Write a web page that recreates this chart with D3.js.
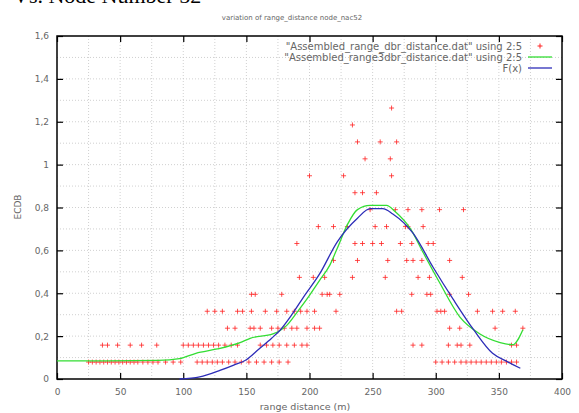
<!DOCTYPE html>
<html>
<head>
<meta charset="utf-8">
<script src="https://cdn.jsdelivr.net/npm/d3@7"></script>
<style>
body { margin: 0; background: #fff; }
text { font-family: "DejaVu Sans", sans-serif; }
.grid line { stroke: #c4c4c4; stroke-dasharray: 1,2; stroke-width: 0.8; }
.axis path { display: none; }
.axis line { stroke: #000; stroke-width: 1.2; }
.axis text { fill: #666; font-size: 9px; }
</style>
</head>
<body>
<script>
// tick values and labels
var xTicks = [0, 50, 100, 150, 200, 250, 300, 350, 400];
var yTicks = [0, 0.2, 0.4, 0.6, 0.8, 1, 1.2, 1.4, 1.6];
var yTickLabels = ["0", "0,2", "0,4", "0,6", "0,8", "1", "1,2", "1,4", "1,6"];
var xGrid = [25, 50, 75, 100, 125, 150, 175, 200, 225, 250, 275, 300, 325, 350, 375];
var yGrid = [0.1, 0.2, 0.3, 0.4, 0.5, 0.6, 0.7, 0.8, 0.9, 1, 1.1, 1.2, 1.3, 1.4, 1.5];

// red points, one list of x per level
var levels = [0.079, 0.158, 0.237, 0.316, 0.395, 0.474, 0.553, 0.632, 0.711, 0.79, 0.869, 0.948, 1.027, 1.106, 1.185, 1.264];
var pointsX = [
  [25, 28, 31, 34, 37, 40, 43, 46, 49, 52, 55, 58, 61, 64, 68, 72, 76, 80, 86, 92, 98,
   111, 115, 119, 123, 127, 131, 136, 141, 146, 152, 158, 164, 170, 176, 183,
   300, 305, 310, 315, 320, 324, 328, 332, 336, 340, 344, 348, 352, 356, 360, 364],
  [36, 40, 48, 58, 67, 79, 100, 104, 108, 112, 116, 120, 124, 128, 133, 138, 143,
   161, 166, 171, 176, 182, 188, 194, 198, 282, 289, 310, 317, 320, 327, 360, 364],
  [135, 141, 153, 156, 161, 170, 175, 180, 186, 190, 198, 204, 208, 311, 319, 347, 369],
  [119, 125, 131, 143, 147, 154, 165, 174, 182, 188, 193, 198, 204, 221,
   269, 273, 301, 304, 307, 333, 345, 353, 363],
  [154, 157, 178, 210, 214, 216, 224, 281, 293, 296, 311, 326],
  [192, 203, 212, 234, 260, 286, 295, 321],
  [219, 238, 262, 277, 282, 289, 311],
  [190, 236, 242, 250, 257, 272, 281, 294, 298],
  [207, 219, 230, 252, 261, 276, 278, 290],
  [248, 268, 278, 289, 303, 322],
  [236, 242, 253],
  [200, 227, 265],
  [244, 264],
  [238, 256, 269],
  [234],
  [265]
];

// green smoothed series
var greenX = [0, 40, 80, 97, 110, 127, 145, 153, 171, 182, 190, 200, 208, 216, 222, 230, 238, 248, 261, 268, 280, 290, 303, 319, 335, 351, 361, 369];
var greenY = [0.085, 0.085, 0.087, 0.095, 0.12, 0.14, 0.17, 0.19, 0.21, 0.25, 0.31, 0.39, 0.46, 0.53, 0.61, 0.72, 0.79, 0.81, 0.81, 0.78, 0.70, 0.59, 0.45, 0.29, 0.21, 0.17, 0.16, 0.23];

// blue F(x)
var blueX = [97, 113, 129, 140, 150, 160, 170, 177, 186, 195, 208, 222, 238, 248, 258, 266, 282, 298, 314, 330, 345, 357, 367];
var blueY = [0.0, 0.01, 0.04, 0.065, 0.09, 0.14, 0.19, 0.23, 0.30, 0.38, 0.49, 0.64, 0.75, 0.795, 0.795, 0.77, 0.68, 0.52, 0.37, 0.23, 0.12, 0.08, 0.05];

var W = 579, H = 413;
var plotL = 57, plotR = 562, plotT = 36, plotB = 379;

var svg = d3.select("body").append("svg").attr("width", W).attr("height", H);

var x = d3.scaleLinear().domain([0, 400]).range([plotL, plotR]);
var y = d3.scaleLinear().domain([0, 1.6]).range([plotB, plotT]);

// clipped header text above the chart
svg.append("text")
    .attr("x", 13).attr("y", 3)
    .style("font-family", "Liberation Serif, serif")
    .style("font-size", "22px")
    .attr("fill", "#000")
    .text("Vs. Node Number 52");

// grid
var grid = svg.append("g").attr("class", "grid");
grid.selectAll(".gx").data(xGrid).enter().append("line")
    .attr("x1", function(d) { return x(d); }).attr("x2", function(d) { return x(d); })
    .attr("y1", plotT).attr("y2", plotB);
grid.selectAll(".gy").data(yGrid).enter().append("line")
    .attr("x1", plotL).attr("x2", plotR)
    .attr("y1", function(d) { return y(d); }).attr("y2", function(d) { return y(d); });

// axes with inward ticks
svg.append("g").attr("class", "axis")
    .attr("transform", "translate(0," + plotB + ")")
    .call(d3.axisBottom(x).tickValues(xTicks).tickSizeInner(-6).tickSizeOuter(0).tickPadding(10));
svg.append("g").attr("class", "axis")
    .attr("transform", "translate(0," + plotT + ")")
    .call(d3.axisTop(x).tickValues(xTicks).tickSizeInner(-6).tickSizeOuter(0).tickFormat(""));
svg.append("g").attr("class", "axis")
    .attr("transform", "translate(" + plotL + ",0)")
    .call(d3.axisLeft(y).tickValues(yTicks).tickSizeInner(-6).tickSizeOuter(0).tickPadding(8)
      .tickFormat(function(d, i) { return yTickLabels[i]; }));
svg.append("g").attr("class", "axis")
    .attr("transform", "translate(" + plotR + ",0)")
    .call(d3.axisRight(y).tickValues(yTicks).tickSizeInner(-6).tickSizeOuter(0).tickFormat(""));

// border
svg.append("rect")
    .attr("x", plotL).attr("y", plotT)
    .attr("width", plotR - plotL).attr("height", plotB - plotT)
    .attr("fill", "none").attr("stroke", "#000").attr("stroke-width", 1.5);

// red points
var pts = [];
pointsX.forEach(function(row, i) {
  row.forEach(function(v) { pts.push({x: v, y: levels[i]}); });
});
svg.append("g").selectAll("path").data(pts).enter().append("path")
    .attr("transform", function(d) { return "translate(" + x(d.x) + "," + y(d.y) + ")"; })
    .attr("d", "M-2.5,0H2.5M0,-2.5V2.5")
    .attr("stroke", "#f22").attr("stroke-opacity", 0.8).attr("stroke-width", 1);

// lines
var line = d3.line()
    .x(function(d) { return x(d[0]); })
    .y(function(d) { return y(d[1]); })
    .curve(d3.curveMonotoneX);

svg.append("path")
    .datum(greenX.map(function(v, i) { return [v, greenY[i]]; }))
    .attr("d", line).attr("fill", "none").attr("stroke", "#33dd33").attr("stroke-width", 1.3);
svg.append("path")
    .datum(blueX.map(function(v, i) { return [v, blueY[i]]; }))
    .attr("d", line).attr("fill", "none").attr("stroke", "#2d2db8").attr("stroke-width", 1.3);

// legend
var legendLabels = ["\"Assembled_range_dbr_distance.dat\" using 2:5", "\"Assembled_range3dbr_distance.dat\" using 2:5", "F(x)"];
var legendColors = ["#f22", "#33dd33", "#2d2db8"];
var leg = svg.append("g");
legendLabels.forEach(function(t, i) {
  var ly = 46 + i * 11;
  leg.append("text").attr("x", 522).attr("y", ly + 3.5)
    .attr("text-anchor", "end").attr("fill", "#666").style("font-size", "10px").text(t);
  if (i === 0) {
    leg.append("path").attr("transform", "translate(540," + ly + ")")
      .attr("d", "M-2.5,0H2.5M0,-2.5V2.5").attr("stroke", legendColors[i]);
  } else {
    leg.append("line").attr("x1", 528).attr("x2", 552).attr("y1", ly).attr("y2", ly)
      .attr("stroke", legendColors[i]).attr("stroke-width", 1.3);
  }
});

// titles
svg.append("text").attr("x", 292).attr("y", 20).attr("text-anchor", "middle")
    .attr("fill", "#666").style("font-size", "7px")
    .text("variation of range_distance node_nac52");
svg.append("text").attr("x", 305).attr("y", 410).attr("text-anchor", "middle")
    .attr("fill", "#666").style("font-size", "9.5px")
    .text("range distance (m)");
svg.append("text").attr("text-anchor", "middle")
    .attr("transform", "translate(21,207)rotate(-90)")
    .attr("fill", "#666").style("font-size", "9px")
    .text("ECDB");
</script>
</body>
</html>
